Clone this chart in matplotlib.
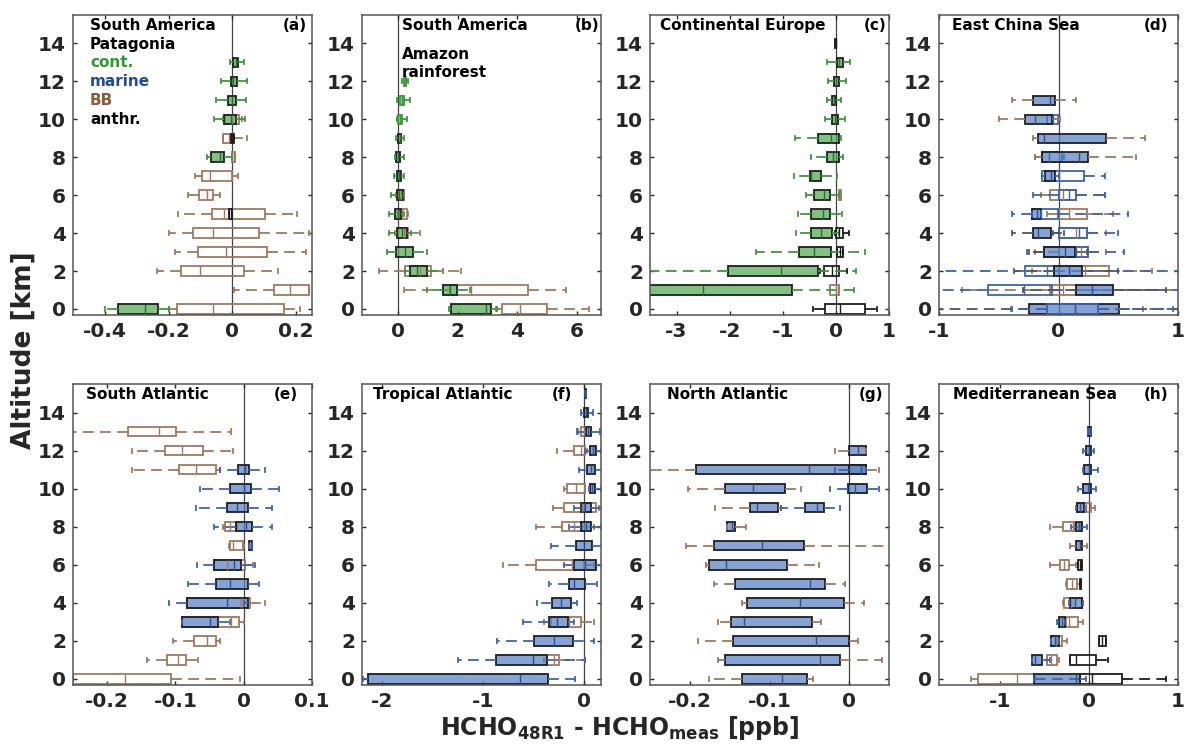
import numpy as np
import matplotlib
matplotlib.use('Agg')
import matplotlib.pyplot as plt
from matplotlib.ticker import FormatStrFormatter
from matplotlib.transforms import blended_transform_factory

plt.rcParams['font.family'] = ['DejaVu Sans']
plt.rcParams['font.weight'] = 'bold'
plt.rcParams['axes.unicode_minus'] = False

# box stats per panel: (altitude km, q1, median, q3, whisker low, whisker high, source)
a_boxes = [
    (13, 0.002, 0.010, 0.017, -0.008, 0.036, 'cont'),
    (12, -0.005, 0.003, 0.016, -0.034, 0.045, 'cont'),
    (11, -0.014, 0.000, 0.0125, -0.050, 0.042, 'cont'),
    (10, -0.023, 0.0, 0.021, -0.03, 0.03, 'BB'),
    (10, -0.026, -0.005, 0.010, -0.058, 0.041, 'cont'),
    (9, -0.028, -0.012, -0.002, -0.03, 0.045, 'BB'),
    (9, -0.005, 0.0, 0.006, -0.005, 0.006, 'anthr'),
    (8, 0.0, 0.004, 0.008, 0.0, 0.008, 'BB'),
    (8, -0.066, -0.0375, -0.026, -0.081, -0.002, 'cont'),
    (7, -0.095, -0.07, 0.0, -0.117, 0.019, 'BB'),
    (6, -0.105, -0.078, -0.06, -0.14, -0.04, 'BB'),
    (5, -0.065, -0.025, 0.104, -0.171, 0.202, 'BB'),
    (5, -0.01, -0.005, 0.0, -0.01, 0.0, 'anthr'),
    (4, -0.125, -0.061, 0.085, -0.199, 0.24, 'BB'),
    (3, -0.108, -0.02, 0.108, -0.18, 0.232, 'BB'),
    (2, -0.16, -0.101, 0.0375, -0.235, 0.144, 'BB'),
    (1, 0.131, 0.182, 0.24, 0.005, 0.24, 'BB'),
    (0, -0.173, -0.061, 0.161, -0.2, 0.213, 'BB'),
    (0, -0.358, -0.275, -0.234, -0.4, -0.2, 'cont'),
]

b_boxes = [
    (12, 0.2, 0.24, 0.28, 0.15, 0.33, 'cont_l'),
    (11, 0.08, 0.15, 0.22, -0.04, 0.39, 'cont_l'),
    (10, 0.0, 0.07, 0.14, -0.04, 0.30, 'cont_l'),
    (9, 0.01, 0.06, 0.11, -0.05, 0.19, 'cont'),
    (8, -0.05, 0.02, 0.08, -0.10, 0.19, 'cont'),
    (7, -0.02, 0.04, 0.11, -0.13, 0.19, 'cont'),
    (6, 0.0, 0.1, 0.19, -0.05, 0.21, 'BB'),
    (6, -0.03, 0.05, 0.17, -0.23, 0.21, 'cont'),
    (5, 0.05, 0.15, 0.30, 0.0, 0.35, 'BB'),
    (5, -0.09, 0.0, 0.10, -0.30, 0.20, 'cont'),
    (4, 0.0, 0.2, 0.35, -0.1, 0.74, 'BB'),
    (4, -0.03, 0.13, 0.32, -0.30, 0.45, 'cont'),
    (3, -0.07, 0.24, 0.52, -0.36, 0.96, 'cont'),
    (2, 0.24, 0.74, 1.12, -0.64, 2.12, 'BB'),
    (2, 0.39, 0.63, 0.96, 0.25, 1.5, 'cont'),
    (1, 1.73, 2.45, 4.37, 0.21, 5.64, 'BB'),
    (1, 1.51, 1.76, 1.98, 0.96, 2.4, 'cont'),
    (0, 3.47, 4.1, 4.98, 3.3, 6.41, 'BB'),
    (0, 1.79, 2.94, 3.11, 1.7, 3.33, 'cont'),
]

c_boxes = [
    (14, -0.01, 0.0, 0.01, -0.01, 0.01, 'anthr'),
    (13, 0.02, 0.06, 0.14, -0.175, 0.26, 'cont'),
    (12, -0.04, 0.01, 0.06, -0.15, 0.19, 'cont'),
    (11, -0.08, -0.04, 0.0, -0.175, 0.10, 'cont'),
    (10, -0.075, -0.02, 0.04, -0.20, 0.175, 'cont'),
    (9, -0.34, -0.10, 0.05, -0.77, 0.09, 'cont'),
    (8, -0.17, -0.05, 0.05, -0.47, 0.14, 'cont'),
    (7, -0.49, -0.46, -0.275, -0.79, 0.025, 'cont'),
    (6, 0.05, 0.07, 0.09, 0.05, 0.09, 'BB'),
    (6, -0.41, -0.22, -0.105, -0.56, 0.05, 'cont'),
    (5, -0.46, -0.25, -0.12, -0.72, 0.11, 'cont'),
    (4, 0.005, 0.06, 0.13, -0.01, 0.24, 'anthr'),
    (4, -0.475, -0.275, -0.08, -0.76, 0.05, 'cont'),
    (3, 0.03, 0.08, 0.14, 0.03, 0.14, 'anthr'),
    (3, -0.70, -0.42, -0.10, -1.50, 0.54, 'cont'),
    (2, -0.22, -0.075, 0.06, -0.30, 0.20, 'anthr'),
    (2, -2.04, -1.03, -0.33, -3.6, 0.37, 'cont'),
    (1, -0.12, 0.0, 0.06, -0.12, 0.06, 'BB'),
    (1, -3.6, -2.51, -0.82, -3.6, 0.34, 'cont'),
    (0, -0.2, 0.075, 0.54, -0.425, 0.78, 'anthr'),
]

d_boxes = [
    (11, -0.21, -0.07, -0.03, -0.39, 0.15, 'marine_bb'),
    (10, -0.097, -0.05, -0.005, -0.1, 0.01, 'marine_o'),
    (10, -0.28, -0.2, -0.055, -0.5, 0.01, 'marine_bb'),
    (9, -0.175, -0.125, 0.40, -0.21, 0.72, 'marine_bb'),
    (8, -0.136, -0.08, 0.03, -0.2, 0.05, 'marine_o'),
    (8, -0.136, 0.17, 0.25, -0.2, 0.65, 'marine_bb'),
    (7, -0.136, 0.0, 0.21, -0.14, 0.39, 'marine_o'),
    (7, -0.11, -0.06, -0.03, -0.14, 0.0, 'marine'),
    (6, -0.07, 0.04, 0.15, -0.15, 0.39, 'BB'),
    (6, 0.0, 0.09, 0.15, -0.21, 0.39, 'marine_o'),
    (5, 0.0, 0.09, 0.24, -0.10, 0.46, 'BB'),
    (5, -0.22, -0.15, -0.005, -0.39, 0.58, 'marine_o'),
    (5, -0.22, -0.18, -0.15, -0.22, -0.15, 'marine'),
    (4, 0.0, 0.15, 0.24, 0.0, 0.40, 'BB'),
    (4, 0.0, 0.17, 0.24, -0.05, 0.50, 'marine_o'),
    (4, -0.21, -0.17, -0.06, -0.39, 0.05, 'marine_k'),
    (3, 0.0, 0.19, 0.25, -0.2, 0.40, 'BB'),
    (3, -0.12, 0.15, 0.25, -0.26, 0.55, 'marine_o'),
    (3, -0.12, 0.055, 0.14, -0.25, 0.24, 'marine_k'),
    (2, 0.0, 0.22, 0.42, -0.22, 0.78, 'BB'),
    (2, -0.28, -0.1, -0.04, -1.05, 1.05, 'marine_o'),
    (2, -0.04, 0.09, 0.2, -0.37, 0.5, 'marine_k'),
    (1, -0.07, 0.04, 0.15, -0.81, 1.05, 'BB'),
    (1, -0.59, -0.29, -0.055, -1.05, 1.05, 'marine_o'),
    (1, 0.15, 0.28, 0.46, -0.3, 0.9, 'marine_k'),
    (0, -0.1, 0.14, 0.33, -0.4, 0.71, 'BB'),
    (0, -0.25, 0.14, 0.51, -1.05, 1.05, 'marine_k'),
    (0, -0.1, 0.14, 0.33, -0.39, 0.96, 'marine_o'),
]

e_boxes = [
    (13, -0.17, -0.124, -0.0995, -0.26, -0.019, 'BB'),
    (12, -0.116, -0.09, -0.06, -0.164, -0.015, 'BB'),
    (11, -0.095, -0.07, -0.041, -0.164, -0.034, 'BB'),
    (11, -0.0086, 0.0015, 0.008, -0.034, 0.031, 'marine'),
    (10, -0.02, 0.0, 0.01, -0.064, 0.052, 'marine'),
    (9, -0.025, -0.01, 0.0066, -0.07, 0.042, 'marine'),
    (8, -0.027, -0.02, -0.011, -0.03, -0.01, 'BB'),
    (8, -0.011, 0.003, 0.0116, -0.044, 0.042, 'marine'),
    (7, -0.02, -0.016, -0.001, -0.022, 0.0, 'BB'),
    (7, 0.0076, 0.01, 0.0126, 0.0076, 0.0126, 'marine'),
    (6, -0.044, -0.025, 0.0015, -0.044, 0.013, 'BB'),
    (6, -0.044, -0.014, -0.0035, -0.068, 0.0167, 'marine'),
    (5, -0.04, -0.02, 0.0056, -0.081, 0.022, 'marine'),
    (4, -0.083, -0.004, 0.009, -0.083, 0.031, 'BB'),
    (4, -0.083, -0.025, 0.0056, -0.11, 0.0, 'marine'),
    (3, -0.09, -0.019, -0.007, -0.09, 0.0, 'BB'),
    (3, -0.09, -0.049, -0.037, -0.09, -0.0197, 'marine'),
    (2, -0.073, -0.054, -0.041, -0.103, -0.034, 'BB'),
    (1, -0.112, -0.096, -0.084, -0.142, -0.067, 'BB'),
    (0, -0.25, -0.174, -0.107, -0.25, -0.005, 'BB'),
]

f_boxes = [
    (15, 0.01, 0.015, 0.02, 0.01, 0.02, 'marine'),
    (14, 0.005, 0.025, 0.046, -0.033, 0.093, 'marine'),
    (13, -0.033, 0.0, 0.016, -0.06, 0.016, 'BB'),
    (13, 0.02, 0.04, 0.073, -0.066, 0.16, 'marine'),
    (12, -0.10, -0.026, 0.016, -0.27, 0.03, 'BB'),
    (12, 0.06, 0.09, 0.116, 0.016, 0.17, 'marine'),
    (11, 0.033, 0.07, 0.11, -0.05, 0.18, 'marine'),
    (10, -0.166, -0.08, 0.016, -0.2, 0.016, 'BB'),
    (10, 0.06, 0.08, 0.11, 0.05, 0.17, 'marine'),
    (9, -0.2, -0.02, 0.116, -0.31, 0.15, 'BB'),
    (9, -0.026, 0.01, 0.066, -0.10, 0.18, 'marine'),
    (8, -0.22, -0.1, -0.016, -0.47, 0.10, 'BB'),
    (8, -0.026, 0.02, 0.073, -0.15, 0.166, 'marine'),
    (7, -0.073, 0.0, 0.076, -0.33, 0.18, 'marine'),
    (6, -0.47, -0.12, 0.0, -0.80, 0.10, 'BB'),
    (6, -0.10, 0.01, 0.12, -0.20, 0.18, 'marine'),
    (5, -0.15, -0.10, 0.016, -0.35, 0.13, 'marine'),
    (4, -0.32, -0.23, -0.13, -0.46, -0.07, 'marine'),
    (3, -0.33, -0.15, -0.033, -0.40, 0.10, 'BB'),
    (3, -0.35, -0.265, -0.156, -0.60, -0.10, 'marine'),
    (2, -0.49, -0.30, -0.106, -0.86, 0.10, 'marine'),
    (1, -0.365, -0.30, -0.25, -0.40, 0.016, 'BB'),
    (1, -0.875, -0.50, -0.365, -1.25, 0.016, 'marine'),
    (0, -2.14, -0.63, -0.358, -2.19, -0.083, 'marine'),
]

g_boxes = [
    (12, 0.0, 0.0116, 0.021, -0.0174, 0.021, 'marine_bb'),
    (11, -0.192, -0.05, 0.021, -0.26, 0.037, 'marine_bb'),
    (11, 0.0, 0.015, 0.021, -0.0174, 0.021, 'marine'),
    (10, -0.156, -0.121, -0.081, -0.202, -0.061, 'marine_bb'),
    (10, -0.002, 0.0075, 0.023, -0.0245, 0.037, 'marine'),
    (9, -0.124, -0.116, -0.089, -0.168, -0.086, 'marine_bb'),
    (9, -0.055, -0.04, -0.031, -0.086, -0.011, 'marine'),
    (8, -0.153, -0.147, -0.143, -0.153, -0.129, 'marine_bb'),
    (7, -0.17, -0.109, -0.057, -0.205, 0.06, 'marine_bb'),
    (6, -0.176, -0.155, -0.078, -0.18, -0.038, 'marine_bb'),
    (5, -0.143, -0.0486, -0.03, -0.17, -0.005, 'marine_bb'),
    (4, -0.128, -0.062, -0.006, -0.134, 0.019, 'marine_bb'),
    (3, -0.148, -0.132, -0.0465, -0.165, -0.035, 'marine_bb'),
    (2, -0.146, -0.042, 0.0, -0.19, 0.011, 'marine_bb'),
    (1, -0.156, -0.037, -0.012, -0.165, 0.041, 'marine_bb'),
    (0, -0.135, -0.0846, -0.0535, -0.176, -0.046, 'marine_bb'),
]

h_boxes = [
    (13, -0.005, 0.01, 0.03, -0.005, 0.03, 'marine'),
    (12, -0.037, 0.0, 0.03, -0.07, 0.06, 'marine'),
    (11, -0.052, 0.0, 0.03, -0.07, 0.10, 'marine'),
    (10, -0.067, -0.01, 0.03, -0.12, 0.086, 'marine'),
    (9, -0.138, -0.03, 0.022, -0.145, 0.067, 'BB'),
    (9, -0.138, -0.10, -0.052, -0.145, -0.04, 'marine'),
    (8, -0.295, -0.175, -0.157, -0.43, -0.10, 'BB'),
    (8, -0.149, -0.11, -0.075, -0.205, -0.026, 'marine'),
    (7, -0.145, -0.10, -0.075, -0.21, -0.026, 'marine_bb'),
    (6, -0.325, -0.28, -0.22, -0.437, -0.145, 'BB'),
    (6, -0.12, -0.10, -0.08, -0.12, -0.08, 'anthr'),
    (5, -0.25, -0.19, -0.13, -0.26, -0.10, 'BB'),
    (5, -0.1, -0.095, -0.09, -0.1, -0.09, 'anthr'),
    (4, -0.28, -0.20, -0.08, -0.29, -0.07, 'BB'),
    (4, -0.213, -0.15, -0.075, -0.22, -0.07, 'marine'),
    (3, -0.26, -0.22, -0.12, -0.27, -0.06, 'BB'),
    (3, -0.33, -0.30, -0.27, -0.36, -0.27, 'marine'),
    (2, -0.42, -0.37, -0.306, -0.42, -0.25, 'BB'),
    (2, -0.42, -0.38, -0.336, -0.42, -0.336, 'marine'),
    (2, 0.116, 0.15, 0.19, 0.116, 0.19, 'anthr'),
    (1, -0.466, -0.42, -0.354, -0.466, -0.33, 'BB'),
    (1, -0.213, -0.14, 0.078, -0.213, 0.216, 'anthr'),
    (1, -0.634, -0.60, -0.52, -0.64, -0.44, 'marine'),
    (0, -1.24, -0.80, -0.616, -1.325, -0.6, 'BB'),
    (0, -0.10, 0.037, 0.377, -0.6, 0.87, 'anthr'),
    (0, -0.616, -0.14, -0.10, -0.62, -0.03, 'marine'),
]

panel_titles = ['South America', 'South America', 'Continental Europe', 'East China Sea',
                'South Atlantic', 'Tropical Atlantic', 'North Atlantic', 'Mediterranean Sea']
panel_tags = ['(a)', '(b)', '(c)', '(d)', '(e)', '(f)', '(g)', '(h)']
panel_xlims = [(-0.5, 0.25), (-1.2, 6.8), (-3.5, 1), (-1, 1),
               (-0.25, 0.1), (-2.2, 0.17), (-0.25, 0.05), (-1.68, 1)]
panel_xticks = [[-0.4, -0.2, 0, 0.2], [0, 2, 4, 6], [-3, -2, -1, 0, 1], [-1, 0, 1],
                [-0.2, -0.1, 0, 0.1], [-2, -1, 0], [-0.2, -0.1, 0], [-1, 0, 1]]
panel_boxes = [a_boxes, b_boxes, c_boxes, d_boxes, e_boxes, f_boxes, g_boxes, h_boxes]

GREEN = '#3a9a3a'
BLUE = '#3a64b5'
BROWN = '#a0785f'
DARK = '#1e1e1e'
# source -> (face, edge, whisker, median)
STYLES = {
    'cont': ((0.29, 0.66, 0.29, 0.7), DARK, GREEN, '#2d6e2d'),
    'cont_l': ((0.29, 0.66, 0.29, 0.45), GREEN, GREEN, GREEN),
    'marine': ((0.34, 0.50, 0.78, 0.72), DARK, BLUE, '#2b4f9a'),
    'marine_bb': ((0.34, 0.50, 0.78, 0.72), DARK, BROWN, '#3d4f75'),
    'marine_k': ((0.34, 0.50, 0.78, 0.72), DARK, '#555555', '#2b4f9a'),
    'marine_o': ('none', BLUE, BLUE, BLUE),
    'BB': ('none', BROWN, BROWN, BROWN),
    'anthr': ('none', DARK, DARK, DARK),
}


def draw_boxes(ax, boxes):
    for alt, q1, med, q3, wlo, whi, src in boxes:
        face, edge, wcol, mcol = STYLES[src]
        stats = [dict(q1=q1, med=med, q3=q3, whislo=wlo, whishi=whi, fliers=[])]
        ax.bxp(stats, positions=[alt], widths=0.5, orientation='horizontal',
               patch_artist=True, showfliers=False, manage_ticks=False, capwidths=0.22,
               boxprops=dict(facecolor=face, edgecolor=edge, linewidth=1.3),
               whiskerprops=dict(color=wcol, linestyle=(0, (6, 3.5)), linewidth=1.3),
               capprops=dict(color=wcol, linewidth=1.3),
               medianprops=dict(color=mcol, linewidth=1.0))


fig = plt.figure(figsize=(11.86, 7.47), dpi=100)
lefts = [73, 362, 650, 939]
W = 1186.0
H = 747.0
axes = []
for i in range(8):
    row, col = divmod(i, 4)
    top = 15 if row == 0 else 384
    bot = 315 if row == 0 else 685
    ax = fig.add_axes([lefts[col] / W, 1 - bot / H, 239 / W, (bot - top) / H])
    axes.append(ax)

    ax.axvline(0, color='#444444', lw=0.9, zorder=1)
    draw_boxes(ax, panel_boxes[i])

    ax.set_xlim(*panel_xlims[i])
    ax.set_ylim(-0.32, 15.5)
    ax.set_xticks(panel_xticks[i])
    ax.set_yticks(np.arange(0, 15, 2))
    ax.xaxis.set_major_formatter(FormatStrFormatter('%g'))
    ax.tick_params(direction='in', length=3, width=1, top=True, right=True,
                   labelsize=14.5, colors='#262626', pad=5)
    for lab in ax.get_xticklabels() + ax.get_yticklabels():
        lab.set_fontweight('bold')
    for sp in ax.spines.values():
        sp.set_color('#555555')
        sp.set_linewidth(1.1)

    tr = blended_transform_factory(ax.transAxes, ax.transData)
    tx = [0.071, 0.168, 0.042, 0.053, 0.055, 0.047, 0.07, 0.059][i]
    tagx = [0.98, 0.995, 0.99, 0.96, 0.94, 0.88, 0.975, 0.96][i]
    ax.text(tx, 14.97, panel_titles[i], transform=tr, fontsize=11, fontweight='bold',
            va='center', ha='left', color='black')
    ax.text(tagx, 14.97, panel_tags[i], transform=tr, fontsize=11, fontweight='bold',
            va='center', ha='right', color='black')

# legend text in panel (a) and subtitle lines
tr = blended_transform_factory(axes[0].transAxes, axes[0].transData)
legend_lines = [('Patagonia', 'black'), ('cont.', '#2e9a2e'), ('marine', '#2448a0'),
                ('BB', '#8b5a3c'), ('anthr.', 'black')]
for k, (txt, col) in enumerate(legend_lines):
    axes[0].text(0.071, 13.97 - k * 1.0, txt, transform=tr, fontsize=11,
                 fontweight='bold', va='center', ha='left', color=col)
tr = blended_transform_factory(axes[1].transAxes, axes[1].transData)
axes[1].text(0.168, 13.4, 'Amazon', transform=tr, fontsize=11, fontweight='bold',
             va='center', ha='left')
axes[1].text(0.168, 12.45, 'rainforest', transform=tr, fontsize=11, fontweight='bold',
             va='center', ha='left')

fig.text(24 / W, 1 - 350 / H, 'Altitude [km]', rotation=90, fontsize=19,
         fontweight='bold', color='#262626', ha='center', va='center')
fig.text(620 / W, 1 - 728 / H, r'HCHO$_{\mathbf{48R1}}$ - HCHO$_{\mathbf{meas}}$ [ppb]',
         fontsize=17, fontweight='bold', color='#262626', ha='center', va='center')

fig.savefig('out.png', dpi=100)
